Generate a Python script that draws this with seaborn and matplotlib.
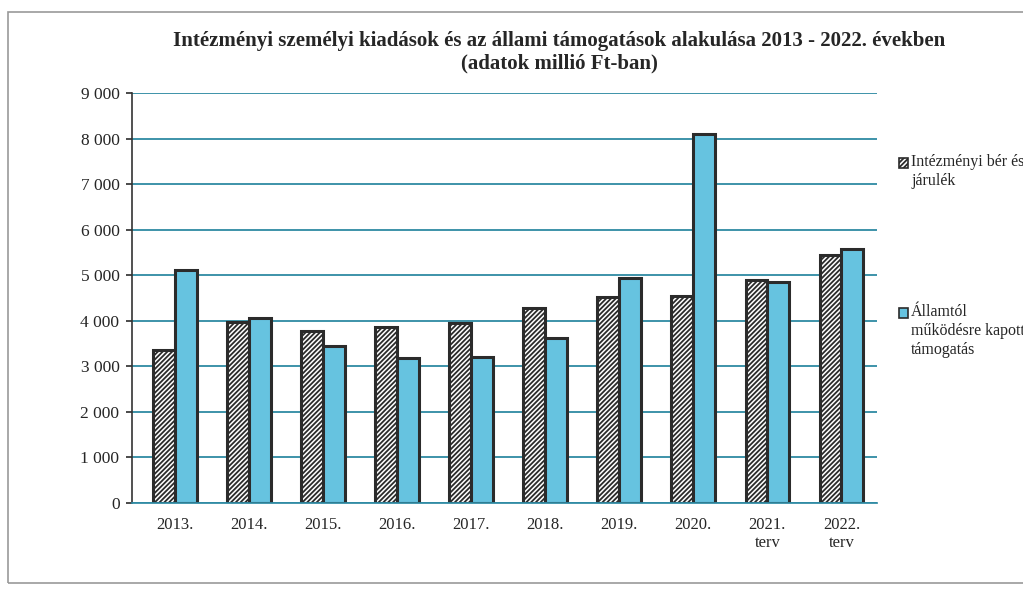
import matplotlib
matplotlib.use("Agg")
import matplotlib.pyplot as plt
import seaborn as sns
import pandas as pd
from matplotlib.patches import Rectangle
from matplotlib.ticker import FuncFormatter

years = ["2013.", "2014.", "2015.", "2016.", "2017.", "2018.", "2019.", "2020.", "2021.\nterv", "2022.\nterv"]
ber = [3350, 3970, 3770, 3860, 3950, 4280, 4520, 4540, 4890, 5440]
tamogatas = [5120, 4060, 3440, 3180, 3200, 3620, 4930, 8110, 4850, 5570]
series_names = ["Intézményi bér és\njárulék", "Államtól\nműködésre kapott\ntámogatás"]
title = "Intézményi személyi kiadások és az állami támogatások alakulása 2013 - 2022. években\n(adatok millió Ft-ban)"

df = pd.DataFrame({
    "year": years * 2,
    "value": ber + tamogatas,
    "series": [series_names[0]] * len(years) + [series_names[1]] * len(years),
})

sns.set_theme(style="white")
plt.rcParams["font.family"] = ["Liberation Serif", "DejaVu Serif"]
plt.rcParams["hatch.linewidth"] = 1.3
plt.rcParams["hatch.color"] = "#333333"

W, H = 1023, 589
fig = plt.figure(figsize=(W / 100, H / 100), dpi=100)
ax = fig.add_axes([132 / W, 1 - 503 / H, (877 - 132) / W, (503 - 93) / H])

colors = ["#ffffff", "#66c3e0"]
sns.barplot(data=df, x="year", y="value", hue="series", palette=colors,
            width=0.59, gap=0, ax=ax, legend=False, saturation=1,
            edgecolor="#2b2b2b", linewidth=2.2)

n = len(years)
for p in ax.patches[:n]:
    p.set_hatch("///////")

ax.set_xlim(-0.58, 9.48)
ax.set_ylim(0, 9000)
ax.set_yticks(range(0, 9001, 1000))
ax.yaxis.set_major_formatter(FuncFormatter(lambda v, _: f"{int(v):,}".replace(",", " ")))
ax.grid(axis="y", color="#2e8aa3", linewidth=1.3)
ax.set_axisbelow(True)
ax.set_xlabel("")
ax.set_ylabel("")
for s in ["top", "right"]:
    ax.spines[s].set_visible(False)
ax.spines["left"].set_color("#333333")
ax.spines["bottom"].set_color("#2e8aa3")
ax.spines["left"].set_linewidth(1.2)
ax.tick_params(axis="y", labelsize=12.5, left=True, length=4, color="#333333", pad=5)
ax.tick_params(axis="x", labelsize=12, bottom=False, pad=4)
for t in ax.get_xticklabels():
    t.set_linespacing(1.15)

fig.text(0.547, 1 - 31 / H, title, ha="center", va="top", fontsize=15,
         fontweight="bold", linespacing=1.15)

# legend (manual layout, outside the plot at right)
leg_items = [
    (series_names[0], "#ffffff", "///////", 158),
    (series_names[1], "#66c3e0", None, 308),
]
for label, fc, hatch, ytop in leg_items:
    fig.patches.append(Rectangle((899 / W, 1 - (ytop + 10) / H), 9 / W, 10 / H,
                                 transform=fig.transFigure, facecolor=fc,
                                 edgecolor="#2b2b2b", hatch=hatch, linewidth=1.2))
    fig.text(911 / W, 1 - (ytop - 4) / H, label, ha="left", va="top",
             fontsize=11.5, linespacing=1.25)

fig.patches.append(Rectangle((8 / W, 6 / H), 1.1, 1 - 18 / H, transform=fig.transFigure,
                             fill=False, edgecolor="#999999", linewidth=1.2))

fig.savefig("out.png", dpi=100)
